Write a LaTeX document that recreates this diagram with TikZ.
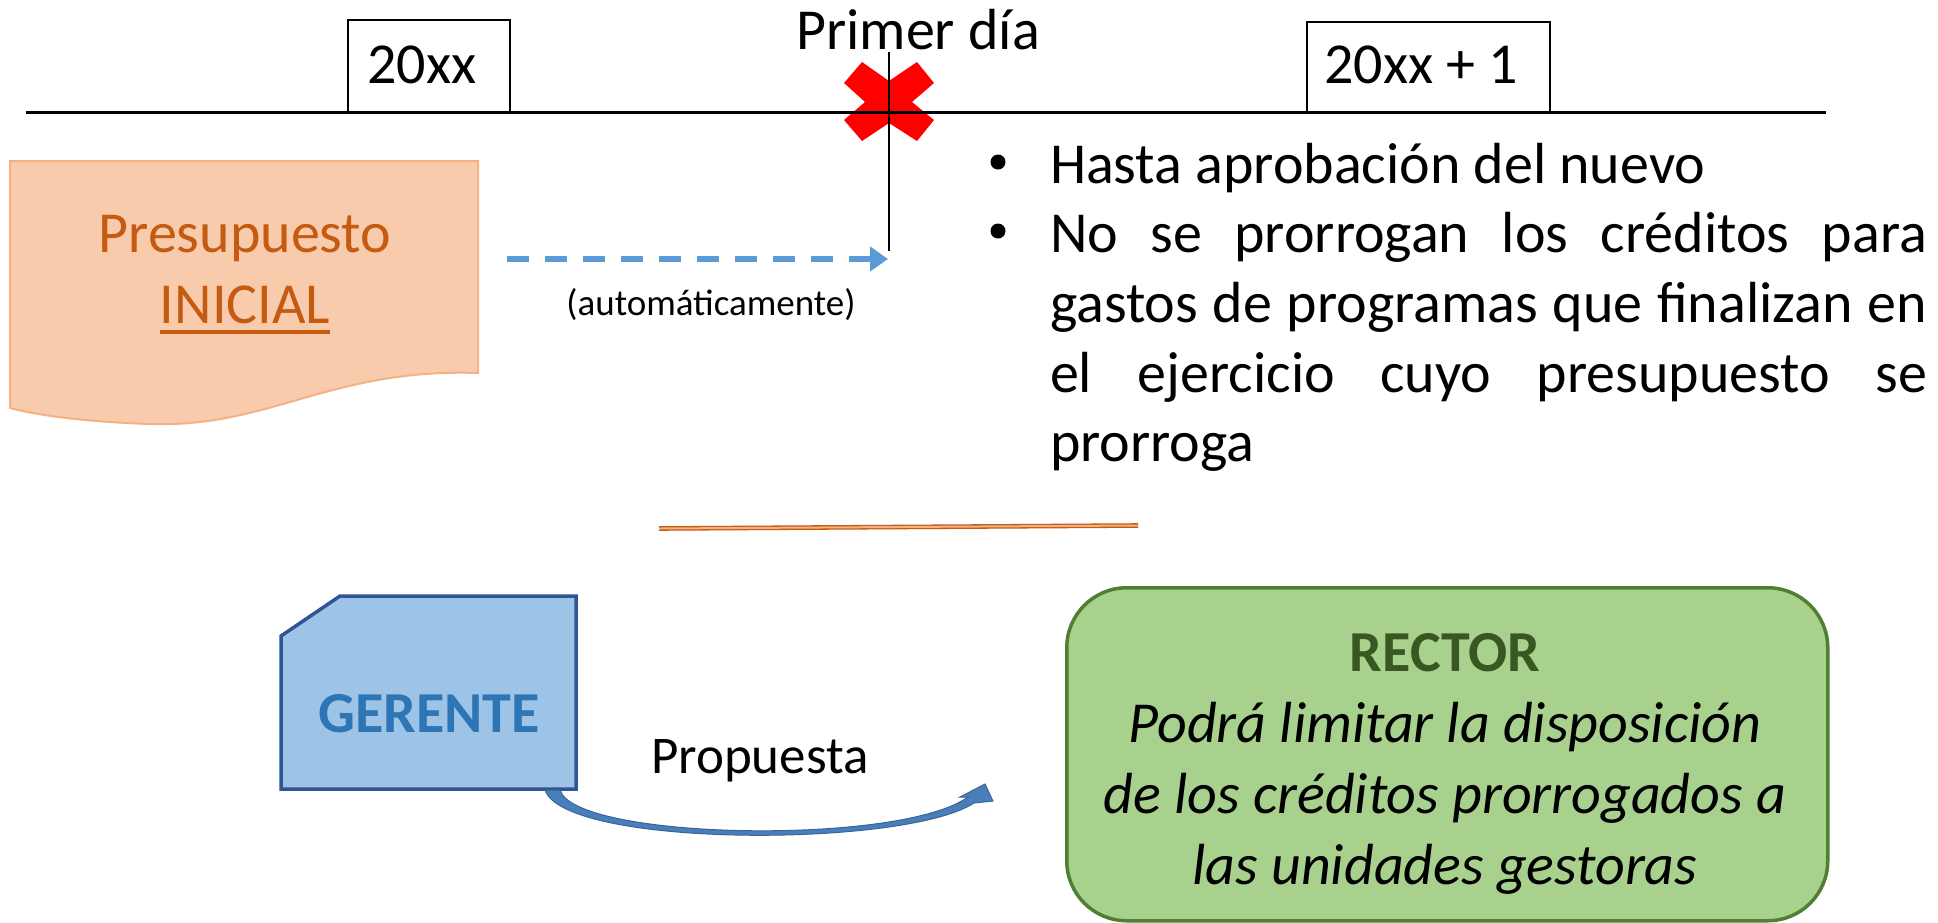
\documentclass[tikz,border=0pt]{standalone}
\usepackage{fontspec}
\setmainfont{Carlito}
\usetikzlibrary{arrows.meta}
\definecolor{docfill}{HTML}{F8CBAD}
\definecolor{docline}{HTML}{F4B183}
\definecolor{doctext}{HTML}{C55A11}
\definecolor{gerfill}{HTML}{9DC3E6}
\definecolor{gerline}{HTML}{2F5597}
\definecolor{gertext}{HTML}{2E75B6}
\definecolor{dashblue}{HTML}{5B9BD5}
\definecolor{arrowfill}{HTML}{4A7EBB}
\definecolor{arrowdark}{HTML}{3A6597}
\definecolor{recfill}{HTML}{A9D18E}
\definecolor{recline}{HTML}{507E32}
\definecolor{rectext}{HTML}{385723}
\definecolor{xred}{HTML}{FF0000}
\newcommand{\mytxtbig}{\fontsize{58}{70}\selectfont}
\newcommand{\mytxtmid}{\fontsize{53}{64}\selectfont}
\newcommand{\mytxtsmall}{\fontsize{37}{44}\selectfont}
\begin{document}
\begin{tikzpicture}[x=1pt,y=-1pt,
  txt/.style={inner sep=0pt, outer sep=0pt, anchor=base, font=\mytxtbig},
  txtl/.style={inner sep=0pt, outer sep=0pt, anchor=base west, font=\mytxtbig},
  yearbox/.style={draw=black, line width=1.5pt, fill=white, inner sep=0pt, anchor=north west},
  bulletdot/.style={circle, fill=black, inner sep=0pt, minimum size=15pt},
]
\useasboundingbox (0,0) rectangle (1938,922);
\fill[white] (0,0) rectangle (1938,922);

% year boxes
\node[yearbox, minimum width=162pt, minimum height=93pt] (ybox1) at (347,19) {};
\node[yearbox, minimum width=243pt, minimum height=91pt] (ybox2) at (1306,21) {};
\node[txt] (y1) at (422,83) {20xx};
\node[txt] (y2) at (1421,83) {20xx + 1};
\node[txt] (primer) at (918,49) {Primer día};

% red cross
\fill[xred] (862,62) -- (889,81) -- (917,62) -- (934,83) -- (912,102) -- (934,120)
  -- (917,141) -- (889,123) -- (862,141) -- (844,120) -- (865,102) -- (844,83) -- cycle;

% timeline
\coordinate (tl0) at (26,112);
\coordinate (tl1) at (1826,112);
\draw[line width=3pt] (tl0) -- (tl1);
\coordinate (v0) at (889,52);
\coordinate (v1) at (889,251);
\draw[line width=2.5pt] (v0) -- (v1);

% document shape
\draw[fill=docfill, draw=docline, line width=2pt]
  (10,161) -- (478,161) -- (478,373)
  .. controls (330,368) and (270,428) .. (150,424)
  .. controls (90,422) and (40,416) .. (10,408) -- cycle;
\node[txt, text=doctext] (pres) at (245,252) {Presupuesto};
\node[txt, text=doctext] (inicial) at (245,323) {INICIAL};
\draw[doctext, line width=4pt] ([yshift=-9pt]inicial.base west) -- ([yshift=-9pt]inicial.base east);

% dashed arrow
\coordinate (da0) at (507,259);
\coordinate (da1) at (888,259);
\draw[dashblue, line width=5.5pt, dash pattern=on 22pt off 16pt,
  -{Triangle[length=18pt,width=24pt]}] (da0) -- (da1);
\node[txt, font=\mytxtsmall] (auto) at (711,315) {(automáticamente)};

% bullets
\node[bulletdot] (b1) at (998,162) {};
\node[bulletdot] (b2) at (998,231) {};
\node[txtl] (l1) at (1050,183) {Hasta aprobación del nuevo};
\node[txtl] (l2) at (1050,252) {\makebox[877pt][s]{No se prorrogan los créditos para}};
\node[txtl] (l3) at (1050,322) {\makebox[877pt][s]{gastos de programas que finalizan en}};
\node[txtl] (l4) at (1050,392) {\makebox[877pt][s]{el ejercicio cuyo presupuesto se}};
\node[txtl] (l5) at (1050,461) {prorroga};

% orange double line
\coordinate (ol0) at (659,528.5);
\coordinate (ol1) at (1138,525.5);
\draw[doctext, line width=1.3pt, double=docline, double distance=2pt] (ol0) -- (ol1);

% GERENTE
\draw[fill=gerfill, draw=gerline, line width=3.5pt]
  (340,596) -- (576,596) -- (576,789) -- (281,789) -- (281,636) -- cycle;
\node[txt, font=\mytxtbig\bfseries, text=gertext] (gerente) at (429,732) {GERENTE};

% curved arrow
\draw[fill=arrowfill, draw=arrowdark, line width=1pt]
  (545,790) .. controls (565,848) and (905,848) .. (974,803)
  -- (993,801) -- (985,784) -- (960,797) -- (968,797)
  .. controls (900,846) and (575,840) .. (560,790) -- cycle;
\node[txt, font=\mytxtmid] (prop) at (760,773) {Propuesta};

% RECTOR
\node[draw=recline, fill=recfill, line width=3.5pt, rounded corners=60pt,
  minimum width=761pt, minimum height=333pt, anchor=north west, inner sep=0pt] (rector) at (1065,586) {};
\node[txt, font=\mytxtbig\bfseries, text=rectext] (rt) at (1445,671) {RECTOR};
\node[txt, font=\mytxtbig\itshape] (r1) at (1445,742) {Podrá limitar la disposición};
\node[txt, font=\mytxtbig\itshape] (r2) at (1445,813) {de los créditos prorrogados a};
\node[txt, font=\mytxtbig\itshape] (r3) at (1445,884) {las unidades gestoras};
\end{tikzpicture}
\end{document}
